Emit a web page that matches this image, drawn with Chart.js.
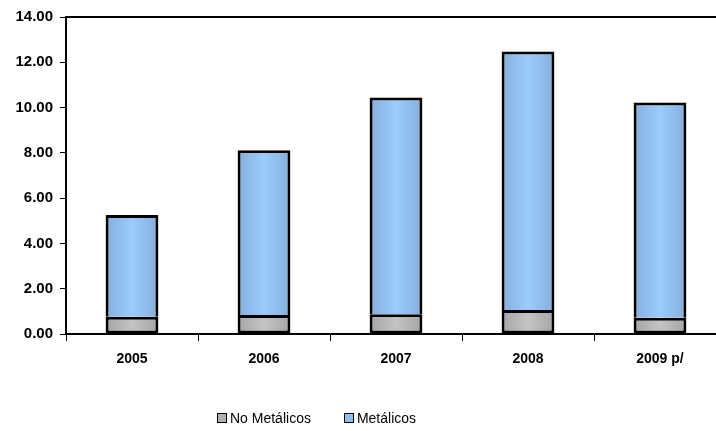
<!DOCTYPE html>
<html>
<head>
<meta charset="utf-8">
<script src="https://cdn.jsdelivr.net/npm/chart.js@4/dist/chart.umd.min.js"></script>
<style>
  html, body { margin: 0; padding: 0; background: #fff; }
  #wrap { position: relative; width: 716px; height: 431px; overflow: hidden; }
  #cv { position: absolute; left: 0; top: 0; }
  #legend { position: absolute; top: 410px; left: 217px; font-family: "Liberation Sans", Arial, sans-serif; font-size: 14px; color: #000; white-space: nowrap; }
  .item { display: inline-block; margin-right: 33px; }
  .box { display: inline-block; width: 8px; height: 8px; border: 1px solid #000; margin-right: 3px; vertical-align: 0px; }
</style>
</head>
<body>
<div id="wrap">
  <canvas id="cv" width="740" height="431"></canvas>
  <div id="legend"></div>
</div>
<script>
const categories = ["2005", "2006", "2007", "2008", "2009 p/"];
const noMetalicos = [0.76, 0.84, 0.87, 1.06, 0.72];
const metalicos = [4.50, 7.28, 9.58, 11.42, 9.50];
const seriesLabels = ["No Metálicos", "Metálicos"];
const yTicks = [0, 2, 4, 6, 8, 10, 12, 14];

const FONT = '"Liberation Sans", Arial, sans-serif';

function gradFill(edge, center) {
  return function (c) {
    const chart = c.chart;
    if (!chart.chartArea || !chart.scales.x) return center;
    const xs = chart.scales.x;
    const x = xs.getPixelForValue(c.dataIndex);
    const w = (xs.width / categories.length) * 0.4;
    const g = chart.ctx.createLinearGradient(x - w / 2, 0, x + w / 2, 0);
    g.addColorStop(0, edge);
    g.addColorStop(0.5, center);
    g.addColorStop(1, edge);
    return g;
  };
}

const topBorder = {
  id: 'topBorder',
  afterDraw(chart) {
    const ctx = chart.ctx, a = chart.chartArea;
    ctx.save();
    ctx.strokeStyle = '#000';
    ctx.lineWidth = 2;
    ctx.beginPath();
    ctx.moveTo(a.left - 1, a.top);
    ctx.lineTo(chart.width, a.top);
    ctx.stroke();
    ctx.restore();
  }
};

const chart = new Chart(document.getElementById('cv'), {
  type: 'bar',
  data: {
    labels: categories,
    datasets: [
      {
        label: seriesLabels[0],
        data: noMetalicos,
        backgroundColor: gradFill('#A4A4A4', '#C4C4C4'),
        borderColor: '#000',
        borderWidth: 3,
        borderSkipped: false,
        barPercentage: 0.8,
        categoryPercentage: 0.5
      },
      {
        label: seriesLabels[1],
        data: metalicos,
        backgroundColor: gradFill('#84AEDC', '#9ACCFD'),
        borderColor: '#000',
        borderWidth: 3,
        borderSkipped: 'bottom',
        barPercentage: 0.8,
        categoryPercentage: 0.5
      }
    ]
  },
  options: {
    responsive: false,
    animation: false,
    devicePixelRatio: 1,
    layout: { padding: { top: 17, right: 14, left: 0, bottom: 0 } },
    plugins: {
      legend: { display: false },
      tooltip: { enabled: false }
    },
    scales: {
      x: {
        stacked: true,
        offset: true,
        grid: { display: true, drawOnChartArea: false, drawTicks: true, tickLength: 7, color: '#000', lineWidth: 1, offset: true },
        border: { display: true, color: '#000', width: 2 },
        ticks: { color: '#000', font: { family: FONT, size: 14, weight: 'bold' }, padding: 10, maxRotation: 0 },
        afterFit(s) { s.height = 97; }
      },
      y: {
        stacked: true,
        min: 0,
        max: 14,
        afterBuildTicks(s) { s.ticks = yTicks.map(v => ({ value: v })); },
        grid: { display: true, drawOnChartArea: false, drawTicks: true, tickLength: 6, color: '#000', lineWidth: 1 },
        border: { display: true, color: '#000', width: 2 },
        ticks: { color: '#000', font: { family: FONT, size: 15, weight: 'bold' }, padding: 7, callback: v => Number(v).toFixed(2) },
        afterFit(s) { s.width = 66; }
      }
    }
  },
  plugins: [topBorder]
});

const leg = document.getElementById('legend');
const legColors = ['#B0B0B0', '#8FBDEE'];
seriesLabels.forEach((t, i) => {
  const it = document.createElement('span');
  it.className = 'item';
  const b = document.createElement('span');
  b.className = 'box';
  b.style.background = legColors[i];
  it.appendChild(b);
  it.appendChild(document.createTextNode(t));
  leg.appendChild(it);
});
</script>
</body>
</html>
